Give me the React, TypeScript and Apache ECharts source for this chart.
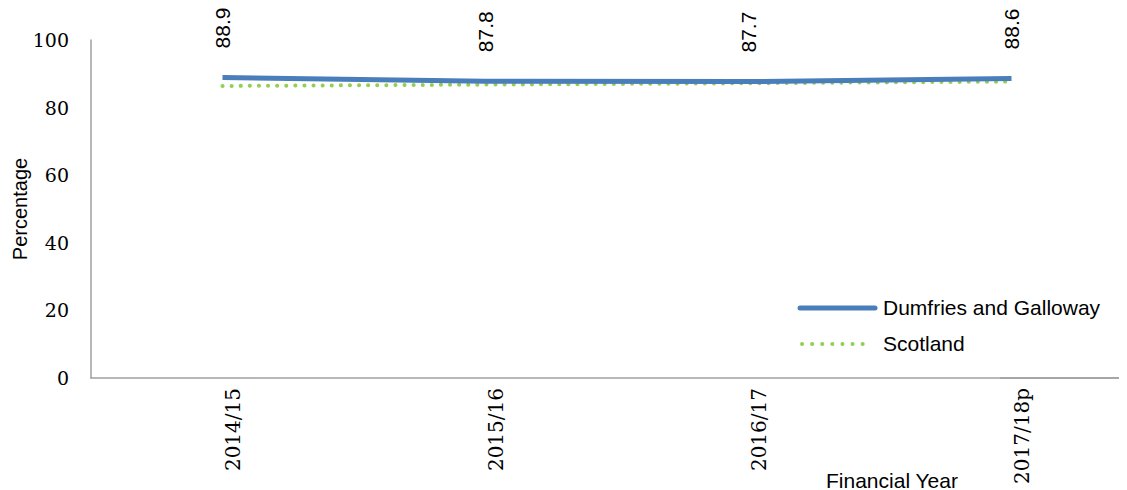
import React, { useEffect, useRef } from "react";
import * as echarts from "echarts";

const categories = ["2014/15", "2015/16", "2016/17", "2017/18p"];
const dumfriesValues = [88.9, 87.8, 87.7, 88.6];
const scotlandValues = [86.4, 86.8, 87.2, 87.7];
const seriesNames = ["Dumfries and Galloway", "Scotland"];
const yTicks = { min: 0, max: 100, interval: 20 };

export default function App() {
  const ref = useRef<HTMLDivElement>(null);
  useEffect(() => {
    if (!ref.current) return;
    const chart = echarts.init(ref.current, undefined, { renderer: "svg" });
    chart.setOption({
      animation: false,
      grid: { left: 91, right: -16, top: 40, bottom: 112, outerBoundsMode: "none", containLabel: false },
      xAxis: {
        type: "category",
        data: categories,
        boundaryGap: true,
        axisLine: { show: true, lineStyle: { color: "#a0a0a0", width: 1.5 } },
        axisTick: { show: false },
        axisLabel: {
          rotate: 90,
          margin: 10,
          verticalAlign: "top",
          fontFamily: "DejaVu Serif",
          fontSize: 20,
          color: "#000",
        },
      },
      yAxis: {
        type: "value",
        min: yTicks.min,
        max: yTicks.max,
        interval: yTicks.interval,
        splitLine: { show: false },
        axisLine: { show: true, lineStyle: { color: "#a0a0a0", width: 1.5 } },
        axisTick: { show: false },
        axisLabel: { margin: 22, fontFamily: "DejaVu Serif", fontSize: 19, color: "#000" },
        name: "Percentage",
        nameLocation: "middle",
        nameGap: 71,
        nameRotate: 90,
        nameMoveOverlap: false,
        nameTextStyle: { fontFamily: "Liberation Sans", fontSize: 20, color: "#000", verticalAlign: "middle" },
      },
      series: [
        {
          name: seriesNames[0],
          type: "line",
          data: dumfriesValues,
          symbol: "circle",
          symbolSize: 0.1,
          showSymbol: true,
          lineStyle: { color: "#4a7ebb", width: 5 },
          itemStyle: { color: "#4a7ebb" },
          z: 3,
          label: {
            show: true,
            position: "top",
            distance: 29,
            rotate: 90,
            align: "left",
            verticalAlign: "middle",
            fontFamily: "Liberation Sans",
            fontSize: 21,
            color: "#000",
            formatter: "{c}",
          },
        },
        {
          name: seriesNames[1],
          type: "line",
          data: scotlandValues,
          symbol: "none",
          lineStyle: { color: "#92d050", width: 4, type: [0.1, 9], cap: "round" },
          itemStyle: { color: "#92d050" },
          z: 2,
        },
      ],
      graphic: [
        {
          type: "line",
          shape: { x1: 1000, y1: 378, x2: 1127, y2: 378 },
          style: { stroke: "#a0a0a0", lineWidth: 1.5 },
        },
        {
          type: "line",
          shape: { x1: 800, y1: 308, x2: 875, y2: 308 },
          style: { stroke: "#4a7ebb", lineWidth: 5, lineCap: "round" },
        },
        {
          type: "text",
          left: 883,
          top: 297,
          style: { text: seriesNames[0], font: "21px 'Liberation Sans'", fill: "#000" },
        },
        {
          type: "line",
          shape: { x1: 802, y1: 344, x2: 872, y2: 344 },
          style: { stroke: "#92d050", lineWidth: 4, lineDash: [0.1, 10], lineCap: "round" },
        },
        {
          type: "text",
          left: 883,
          top: 333,
          style: { text: seriesNames[1], font: "21px 'Liberation Sans'", fill: "#000" },
        },
        {
          type: "text",
          left: 826,
          top: 470,
          style: { text: "Financial Year", font: "21px 'Liberation Sans'", fill: "#000" },
        },
      ],
    });
    return () => chart.dispose();
  }, []);
  return <div ref={ref} style={{ width: 1127, height: 490, marginLeft: -8, marginTop: -8 }} />;
}
